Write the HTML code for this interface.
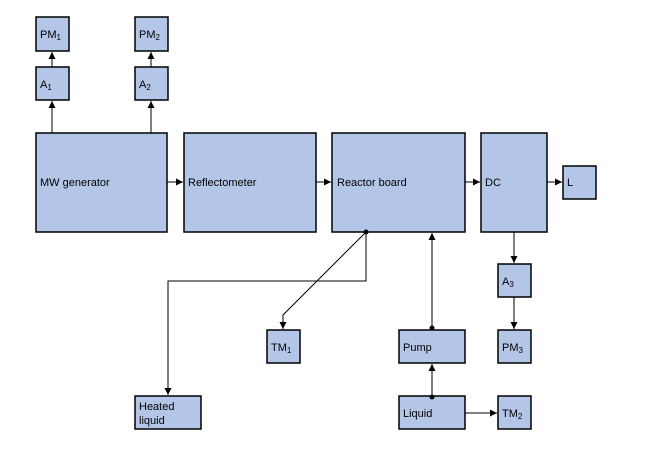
<!DOCTYPE html>
<html><head><meta charset="utf-8"><style>
html,body{margin:0;padding:0;background:#fff;}
svg text{font-family:"Liberation Sans",sans-serif;font-size:11px;fill:#000;}
</style></head><body>
<svg width="666" height="453" viewBox="0 0 666 453" xmlns="http://www.w3.org/2000/svg">
<defs><marker id="a" markerWidth="8" markerHeight="8" refX="7" refY="4" orient="auto" markerUnits="userSpaceOnUse"><path d="M0,0.5 L7,4 L0,7.5 z" fill="#000"/></marker></defs>
<g fill="#b4c6e7" stroke="#000" stroke-width="1.5">
<rect x="36" y="17" width="33" height="34"/>
<rect x="36" y="67" width="33" height="33"/>
<rect x="135" y="17" width="33" height="34"/>
<rect x="135" y="67" width="33" height="33"/>
<rect x="36" y="133" width="131" height="99"/>
<rect x="184" y="133" width="132" height="99"/>
<rect x="332" y="133" width="133" height="99"/>
<rect x="481" y="133" width="66" height="99"/>
<rect x="563" y="166" width="33" height="33"/>
<rect x="498" y="264" width="33" height="33"/>
<rect x="498" y="330" width="33" height="33"/>
<rect x="267" y="330" width="33" height="33"/>
<rect x="399" y="330" width="66" height="33"/>
<rect x="399" y="396" width="66" height="33"/>
<rect x="498" y="396" width="33" height="33"/>
<rect x="135" y="396" width="66" height="33"/>
</g>
<g stroke="#000" stroke-width="1" fill="none" marker-end="url(#a)">
<line x1="52" y1="133" x2="52" y2="101"/>
<line x1="52" y1="67" x2="52" y2="52"/>
<line x1="151" y1="133" x2="151" y2="101"/>
<line x1="151" y1="67" x2="151" y2="52"/>
<line x1="167" y1="182" x2="183" y2="182"/>
<line x1="316" y1="182" x2="331" y2="182"/>
<line x1="465" y1="182" x2="480" y2="182"/>
<line x1="547" y1="182" x2="562" y2="182"/>
<line x1="514" y1="232" x2="514" y2="263"/>
<line x1="514" y1="297" x2="514" y2="329"/>
<polyline points="366,232 366,281 168,281 168,395"/>
<polyline points="366,232 283,315 283,329"/>
<line x1="432" y1="328" x2="432" y2="233"/>
<line x1="432" y1="397" x2="432" y2="364"/>
<line x1="465" y1="413" x2="497" y2="413"/>
</g>
<g fill="#000"><circle cx="366" cy="232" r="2.5"/><circle cx="432" cy="328" r="2.5"/><circle cx="432" cy="397" r="2.5"/></g>
<text x="40" y="38">PM<tspan font-size="8" dy="2">1</tspan></text>
<text x="40" y="88">A<tspan font-size="8" dy="2">1</tspan></text>
<text x="139" y="38">PM<tspan font-size="8" dy="2">2</tspan></text>
<text x="139" y="88">A<tspan font-size="8" dy="2">2</tspan></text>
<text x="40" y="186">MW generator</text>
<text x="188" y="186">Reflectometer</text>
<text x="337" y="186">Reactor board</text>
<text x="485" y="186">DC</text>
<text x="567" y="186">L</text>
<text x="502" y="285">A<tspan font-size="8" dy="2">3</tspan></text>
<text x="502" y="351">PM<tspan font-size="8" dy="2">3</tspan></text>
<text x="271" y="351">TM<tspan font-size="8" dy="2">1</tspan></text>
<text x="403" y="351">Pump</text>
<text x="403" y="417">Liquid</text>
<text x="502" y="417">TM<tspan font-size="8" dy="2">2</tspan></text>
<text x="139" y="410">Heated</text>
<text x="139" y="424">liquid</text>
</svg>
</body></html>
